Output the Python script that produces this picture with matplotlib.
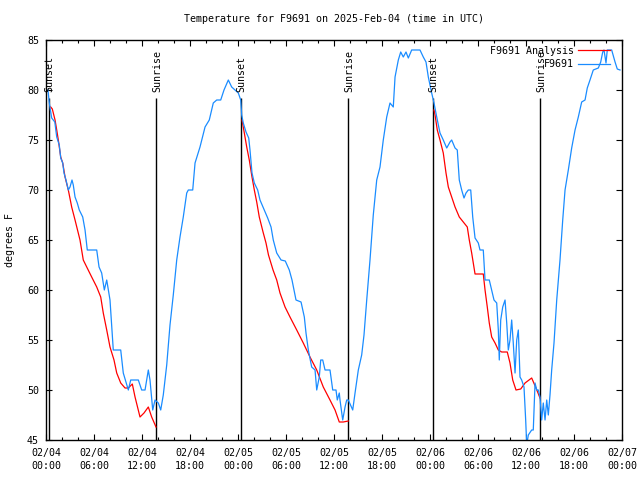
import matplotlib
matplotlib.use("Agg")
import matplotlib.pyplot as plt

# ---- data (hours since 2025-02-04 00:00 UTC) ----
obs_hours = [0.25, 0.41, 0.71, 1.1, 1.34, 1.66, 1.84, 2.09, 2.25, 2.5, 2.79, 3.0, 3.25, 3.41, 3.63,
             3.91, 4.16, 4.59, 4.88, 5.16, 6.34, 6.63, 6.96, 7.29, 7.59, 8.0, 8.41, 9.34, 9.66, 10.29,
             10.59, 11.54, 11.96, 12.38, 12.79, 13.0, 13.34, 13.63, 14.04, 14.34, 14.66, 15.09, 15.5,
             15.91, 16.34, 16.75, 17.16, 17.59, 17.79, 18.34, 18.63, 19.25, 19.88, 20.41, 20.91, 21.34,
             21.84, 22.25, 22.79, 23.21, 23.63, 24.04, 24.34, 24.46, 24.66, 25.0, 25.34, 25.5, 25.75,
             26.04, 26.46, 26.75, 27.29, 27.71, 28.13, 28.41, 28.84, 29.38, 29.91, 30.41, 30.75, 31.25,
             31.88, 32.29, 32.5, 32.79, 33.21, 33.63, 33.84, 34.16, 34.34, 34.59, 34.88, 35.5, 35.84,
             36.25, 36.41, 36.66, 36.75, 37.09, 37.38, 37.59, 37.79, 38.34, 38.63, 39.04, 39.46, 39.75,
             40.09, 40.5, 40.91, 41.34, 41.75, 42.16, 42.59, 43.0, 43.41, 43.63, 44.04, 44.34, 44.66,
             45.0, 45.29, 45.71, 46.75, 47.16, 47.5, 47.79, 48.21, 48.5, 48.84, 49.25, 49.66, 50.09,
             50.5, 50.71, 51.13, 51.41, 51.66, 51.96, 52.25, 52.5, 52.79, 53.09, 53.34, 53.63, 54.04,
             54.25, 54.66, 54.88, 55.41, 55.71, 56.0, 56.34, 56.54, 56.66, 56.84, 57.09, 57.38, 57.59,
             57.79, 58.0, 58.21, 58.41, 58.63, 58.84, 59.04, 59.25, 59.46, 59.75, 59.96, 60.09, 60.29,
             60.71, 60.91, 61.13, 61.34, 61.54, 61.75, 61.96, 62.16, 62.38, 62.59, 62.79, 63.0, 63.21,
             63.5, 63.84, 64.25, 64.59, 64.88, 65.29, 65.71, 66.13, 66.54, 66.96, 67.38, 67.66, 68.0,
             68.41, 69.04, 69.34, 69.59, 69.75, 70.0, 70.16, 70.71, 71.13, 71.41, 71.75]
obs_temps = [80, 78.7, 77.2, 76.8, 75.3, 74.5, 73.2, 72.7, 71.7, 71, 70, 70.3, 71, 70.5, 69.3,
             68.7, 68, 67.3, 66, 64, 64, 62.3, 61.7, 60, 61, 59, 54, 54, 51.7, 50,
             51, 51, 50, 50, 52, 51, 48, 49, 48.7, 48, 49.5, 52.5, 56.5,
             59.5, 63, 65.3, 67.3, 69.7, 70, 70, 72.7, 74.3, 76.3, 77, 78.7, 79,
             79, 80, 81, 80.3, 80, 79.7, 79, 77.5, 76.7, 75.8, 75.2, 74, 71.7,
             70.7, 70, 69, 68, 67.2, 66.3, 65, 63.7, 63, 62.9, 62, 61, 59,
             58.8, 57.3, 55.7, 54, 52.3, 52, 50, 51.3, 53, 53, 52, 52, 50,
             50, 49, 49.7, 49, 47, 48.3, 49, 49, 48, 49.7, 52, 53.5, 55.5,
             59, 63, 67.5, 71, 72.3, 75, 77.3, 78.7, 78.3, 81.3, 83, 83.8, 83.3,
             83.8, 83.2, 84, 84, 83.3, 82.8, 81.3, 79.7, 78.7, 77.3, 75.7, 75, 74.2,
             74.8, 75, 74.2, 74, 71, 70, 69.2, 69.7, 70, 70, 67.3, 65.2, 64.7,
             64, 64, 61, 61, 60, 59, 58.7, 56, 53, 57, 58.3, 59, 56.7,
             54, 55, 57, 54.7, 51.7, 55, 56, 51.3, 51, 50.3, 47, 44.5, 45.5,
             46, 46, 50.7, 50, 50, 49.3, 47, 48.7, 47, 49, 47.5, 49.5, 52,
             54.7, 59, 63, 67, 70, 72, 74.2, 76, 77.3, 78.8, 79, 80.2, 81,
             82, 82.2, 82.8, 83.8, 84, 82.7, 84, 84, 82.8, 82.1, 82]

ana1_hours = [0.59, 0.79, 1.13, 1.34, 1.54, 1.84, 2.09, 2.38, 2.79, 3.21, 3.63, 4.25, 4.66, 5.09,
              5.71, 6.34, 6.84, 7.16, 7.59, 8.0, 8.5, 8.84, 9.34, 9.88, 10.29, 10.79, 11.13, 11.75,
              12.25, 12.79, 13.21, 13.75]
ana1_temps = [78.3, 78.1, 77, 76, 75, 73.3, 72.7, 71.3, 70, 68.3, 67, 65, 63, 62.3,
              61.3, 60.3, 59.3, 57.7, 56, 54.3, 53, 51.7, 50.7, 50.2, 50.2, 50.6, 49.3, 47.3,
              47.7, 48.3, 47.3, 46.3]
ana2_hours = [24.5, 24.79, 25.09, 25.41, 25.75, 26.04, 26.34, 26.66, 27.13, 27.5, 27.81, 28.38,
              28.84, 29.25, 29.88, 30.5, 31.34, 32.16, 33.0, 33.84, 34.66, 35.5, 36.13, 36.66,
              37.16, 37.79]
ana2_temps = [77, 75.7, 74.3, 73, 71.3, 70, 68.8, 67.3, 65.8, 64.7, 63.5, 62,
              61, 59.7, 58.3, 57.3, 56, 54.7, 53.3, 52, 50.3, 49, 48, 46.8,
              46.8, 46.9]
ana3_hours = [48.5, 48.63, 48.91, 49.25, 49.66, 50.0, 50.29, 50.71, 51.13, 51.66, 52.16, 52.66,
              52.91, 53.21, 53.41, 53.63, 54.66, 54.88, 55.16, 55.41, 55.71, 56.13, 56.54, 56.96,
              57.66, 58.0, 58.34, 58.75, 59.34, 59.88, 60.71, 61.25, 61.75]
ana3_temps = [78, 77.5, 76, 75, 73.7, 71.7, 70.3, 69.3, 68.3, 67.3, 66.8, 66.3,
              65, 63.7, 62.7, 61.6, 61.6, 60, 58.3, 56.7, 55.3, 54.7, 54, 53.8,
              53.8, 52.7, 51, 50, 50.1, 50.7, 51.2, 50.2, 49.2]

sunset_hours = [0.38, 24.37, 48.36]
sunrise_hours = [13.8, 37.78, 61.77]

xtick_hours = [0, 6, 12, 18, 24, 30, 36, 42, 48, 54, 60, 66, 72]
xtick_labels = ["02/04\n00:00", "02/04\n06:00", "02/04\n12:00", "02/04\n18:00",
                "02/05\n00:00", "02/05\n06:00", "02/05\n12:00", "02/05\n18:00",
                "02/06\n00:00", "02/06\n06:00", "02/06\n12:00", "02/06\n18:00",
                "02/07\n00:00"]
ytick_vals = [45, 50, 55, 60, 65, 70, 75, 80, 85]

FONT = "DejaVu Sans Mono"
FS = 7.2
RED = "#ff0000"
BLUE = "#1a8cff"

fig = plt.figure(figsize=(6.4, 4.8), dpi=100)
ax = fig.add_axes([46 / 640, 40 / 480, 576 / 640, 400 / 480])

ax.set_xlim(0, 72)
ax.set_ylim(45, 85)

# sunrise / sunset markers
for h in sunset_hours:
    ax.vlines(h, 45, 79.2, color="black", lw=1.0)
    ax.text(h + 0.1, 79.8, "Sunset", rotation=90, ha="center", va="bottom",
            family=FONT, fontsize=FS)
for h in sunrise_hours:
    ax.vlines(h, 45, 79.2, color="black", lw=1.0)
    ax.text(h + 0.1, 79.8, "Sunrise", rotation=90, ha="center", va="bottom",
            family=FONT, fontsize=FS)

ax.plot(ana1_hours, ana1_temps, color=RED, lw=0.9, label="F9691 Analysis")
ax.plot(ana2_hours, ana2_temps, color=RED, lw=0.9)
ax.plot(ana3_hours, ana3_temps, color=RED, lw=0.9)
ax.plot(obs_hours, obs_temps, color=BLUE, lw=0.9, label="F9691")

ax.set_xticks(xtick_hours)
ax.set_xticklabels(xtick_labels, family=FONT, fontsize=FS, linespacing=1.3)
ax.set_xticks(range(0, 73, 2), minor=True)
ax.set_yticks(ytick_vals)
ax.set_yticklabels([str(v) for v in ytick_vals], family=FONT, fontsize=FS)

ax.tick_params(axis="both", which="major", direction="in", length=4, width=0.8,
               top=True, right=True, color="black")
ax.tick_params(axis="x", which="major", pad=6)
ax.tick_params(axis="y", which="major", pad=5)
ax.tick_params(axis="x", which="minor", direction="in", length=2, width=0.8,
               top=True, bottom=True)
for s in ax.spines.values():
    s.set_linewidth(1.0)
    s.set_color("black")

leg = ax.legend(loc="upper right", bbox_to_anchor=(1 - 7 / 576, 1 - 1 / 400),
                frameon=False, markerfirst=False,
                prop={"family": FONT, "size": FS}, handlelength=3.2,
                handletextpad=0.4, labelspacing=0.35, borderaxespad=0.2,
                borderpad=0.3)

fig.text(334 / 640, 1 - 19 / 480, "Temperature for F9691 on 2025-Feb-04 (time in UTC)",
         ha="center", va="center", family=FONT, fontsize=FS)
fig.text(10 / 640, 0.5, "degrees F", rotation=90, ha="center", va="center",
         family=FONT, fontsize=FS)

fig.savefig("out.png", dpi=100)
